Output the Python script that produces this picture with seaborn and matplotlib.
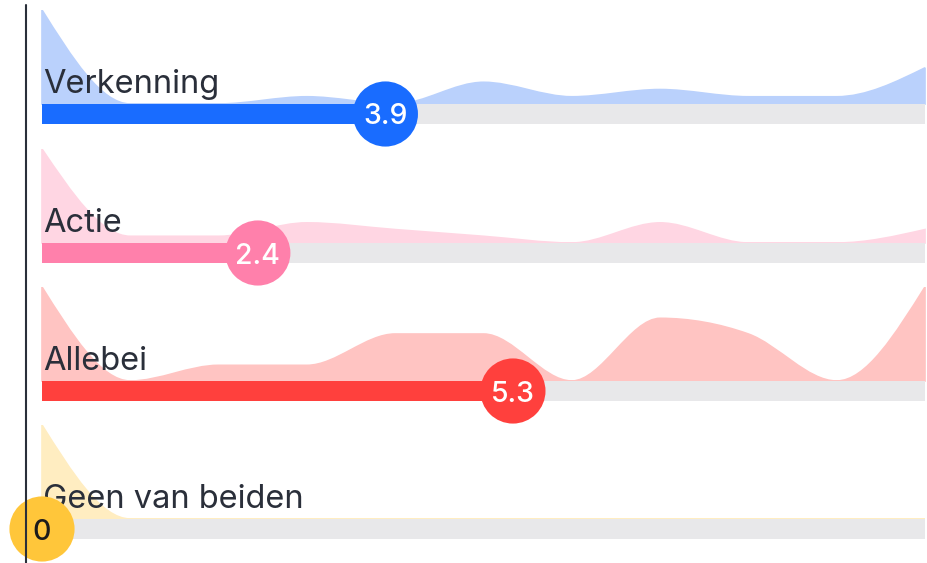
import numpy as np
import matplotlib
matplotlib.use("Agg")
import matplotlib.pyplot as plt
import seaborn as sns
from matplotlib.path import Path
from matplotlib.patches import PathPatch
from matplotlib.lines import Line2D

# scale 0..10 and number of votes per scale step
scale = list(range(11))
labels = ["Verkenning", "Actie", "Allebei", "Geen van beiden"]
counts_verkenning = [13, 0, 0, 1, 0, 3, 1, 2, 1, 1, 5]
counts_actie = [14, 1, 1, 3, 2, 1, 0, 3, 0, 0, 2]
counts_allebei = [6, 0, 1, 1, 3, 3, 0, 4, 3, 0, 6]
counts_geen = [5, 0, 0, 0, 0, 0, 0, 0, 0, 0, 0]
all_counts = [counts_verkenning, counts_actie, counts_allebei, counts_geen]

bar_colors = ["#196CFF", "#FF80AB", "#FF403D", "#FFC63A"]
area_colors = ["#BAD1FC", "#FFD6E3", "#FFC4C2", "#FFEDC1"]
num_colors = ["white", "white", "white", "#1B1B1B"]
TRACK = "#E8E8EA"
TEXT = "#2A2F3A"

W, H = 928, 563
X0, X1 = 42, 925          # pixel span of the 0..10 scale
track_tops = [104, 243, 381, 519]
AREA_H = 94
TRACK_H = 20


def monotone_path(x, y):
    # monotone cubic (like d3 curveMonotoneX) as bezier segments
    x = np.asarray(x, float)
    y = np.asarray(y, float)
    n = len(x)
    h = np.diff(x)
    s = np.diff(y) / h
    t = np.zeros(n)
    for i in range(1, n - 1):
        s0, s1 = s[i - 1], s[i]
        p = (s0 * h[i] + s1 * h[i - 1]) / (h[i - 1] + h[i])
        sg = (1 if s0 >= 0 else -1) + (1 if s1 >= 0 else -1)
        t[i] = sg * min(abs(s0), abs(s1), 0.5 * abs(p))
    t[0] = (3 * s[0] - t[1]) / 2
    t[-1] = (3 * s[-1] - t[-2]) / 2
    verts = [(x[0], 0), (x[0], y[0])]
    codes = [Path.MOVETO, Path.LINETO]
    for i in range(n - 1):
        dx = h[i] / 3
        verts += [(x[i] + dx, y[i] + dx * t[i]),
                  (x[i + 1] - dx, y[i + 1] - dx * t[i + 1]),
                  (x[i + 1], y[i + 1])]
        codes += [Path.CURVE4] * 3
    verts += [(x[-1], 0), (x[0], 0)]
    codes += [Path.LINETO, Path.CLOSEPOLY]
    return Path(verts, codes)


sns.set_theme(style="white")
plt.rcParams["font.family"] = ["Inter", "DejaVu Sans"]

fig = plt.figure(figsize=(W / 100, H / 100), dpi=100)
fig.patch.set_facecolor("white")

ppu = (X1 - X0) / 10.0
xlim = (-X0 / ppu, 10 + (W - X1) / ppu)

for i, (lab, cnt) in enumerate(zip(labels, all_counts)):
    top = track_tops[i]
    ax = fig.add_axes([0, 1 - (top + TRACK_H) / H, 1, (AREA_H + TRACK_H) / H])
    ax.set_axis_off()
    m = max(cnt)
    tr = m * TRACK_H / AREA_H
    ax.set_xlim(*xlim)
    ax.set_ylim(-tr, m)

    ax.add_patch(PathPatch(monotone_path(scale, cnt), facecolor=area_colors[i],
                           edgecolor=area_colors[i], lw=1.2, zorder=1))

    mean = np.average(scale, weights=cnt)
    ax.barh(-tr, 10, height=tr, left=0, align="edge", color=TRACK,
            linewidth=0, zorder=2)
    ax.barh(-tr, mean, height=tr, left=0, align="edge", color=bar_colors[i],
            linewidth=0, zorder=3)

    ax.annotate(lab, xy=(0, 0), xytext=(1, 11), textcoords="offset pixels",
                ha="left", va="baseline", fontsize=23.5, color=TEXT, zorder=4)

    sns.scatterplot(x=[mean], y=[-tr / 2], ax=ax, s=2200, color=bar_colors[i],
                    edgecolor="none", zorder=5, clip_on=False, legend=False)
    txt = f"{mean:.1f}"
    if txt.endswith(".0"):
        txt = txt[:-2]
    ax.text(mean, -tr / 2, txt, ha="center", va="center_baseline", fontsize=20.5,
            fontweight="medium", color=num_colors[i], zorder=6, clip_on=False)

# left axis line, drawn over everything
fig.add_artist(Line2D([26 / W, 26 / W], [0, 1 - 5 / H], transform=fig.transFigure,
                      color=TEXT, lw=1.5, zorder=10))

fig.savefig("out.png", dpi=100)
